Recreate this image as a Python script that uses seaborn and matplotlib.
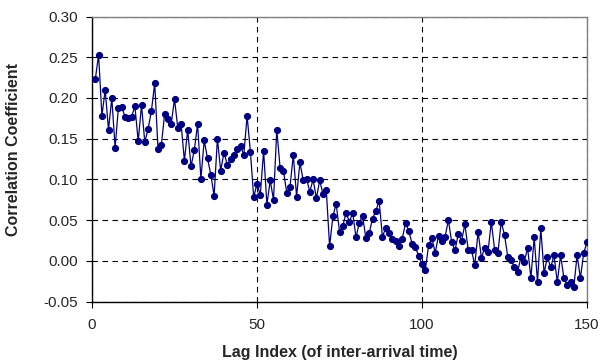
import matplotlib
matplotlib.use("Agg")
import matplotlib.pyplot as plt
import seaborn as sns
import pandas as pd

lags = list(range(1, 151))
corr = [
    0.223, 0.253, 0.178, 0.210, 0.161, 0.200, 0.139, 0.188, 0.189, 0.177,
    0.175, 0.177, 0.190, 0.147, 0.191, 0.146, 0.162, 0.184, 0.218, 0.138,
    0.142, 0.180, 0.174, 0.168, 0.199, 0.163, 0.168, 0.123, 0.161, 0.116,
    0.136, 0.168, 0.101, 0.148, 0.126, 0.106, 0.080, 0.150, 0.111, 0.133,
    0.118, 0.125, 0.130, 0.137, 0.141, 0.130, 0.178, 0.134, 0.078, 0.095,
    0.081, 0.135, 0.069, 0.099, 0.075, 0.161, 0.114, 0.111, 0.084, 0.091,
    0.130, 0.079, 0.121, 0.099, 0.101, 0.085, 0.100, 0.077, 0.099, 0.082,
    0.087, 0.018, 0.055, 0.070, 0.036, 0.043, 0.059, 0.048, 0.059, 0.029,
    0.047, 0.055, 0.028, 0.034, 0.052, 0.061, 0.074, 0.030, 0.040, 0.034,
    0.027, 0.025, 0.018, 0.027, 0.046, 0.037, 0.021, 0.017, 0.006, -0.004,
    -0.011, 0.019, 0.028, 0.010, 0.031, 0.025, 0.030, 0.050, 0.023, 0.013,
    0.033, 0.025, 0.045, 0.014, 0.013, -0.005, 0.036, 0.004, 0.016, 0.011,
    0.048, 0.014, 0.010, 0.048, 0.032, 0.005, 0.001, -0.007, -0.013, 0.005,
    -0.001, 0.016, -0.021, 0.029, -0.026, 0.040, -0.015, 0.005, -0.008, 0.007,
    -0.026, 0.007, -0.021, -0.029, -0.026, -0.032, 0.007, -0.021, 0.010, 0.023,
]
x_ticks = [0, 50, 100, 150]
y_ticks = [-0.05, 0.00, 0.05, 0.10, 0.15, 0.20, 0.25, 0.30]
x_label = "Lag Index (of inter-arrival time)"
y_label = "Correlation Coefficient"

df = pd.DataFrame({"lag": lags, "corr": corr})

sns.set_style("white")
plt.rcParams["font.family"] = ["Liberation Sans", "DejaVu Sans"]

fig = plt.figure(figsize=(6.02, 3.62), dpi=100)
ax = fig.add_axes([92 / 602, 1 - 301.7 / 362, (587 - 92) / 602, (301.7 - 16.5) / 362])

sns.lineplot(data=df, x="lag", y="corr", ax=ax, color="#000080", linewidth=0.9,
             marker="o", markersize=4.4, markeredgecolor="#000080",
             markerfacecolor="#000080", zorder=3)

ax.set_xlim(0, 150)
ax.set_ylim(-0.05, 0.30)
ax.set_xticks(x_ticks)
ax.set_yticks(y_ticks)
ax.set_yticklabels([f"{v:.2f}" for v in y_ticks])
ax.grid(True, color="black", linestyle=(0, (5, 4)), linewidth=0.8)
ax.set_axisbelow(True)

for s in ["left", "bottom"]:
    ax.spines[s].set_color("black")
    ax.spines[s].set_linewidth(1.0)
for s in ["top", "right"]:
    ax.spines[s].set_visible(True)
    ax.spines[s].set_color("#808080")
    ax.spines[s].set_linewidth(1.0)

ax.tick_params(axis="both", which="major", direction="out", length=4, width=0.8,
               color="black", labelsize=11, left=True, bottom=True)
ax.tick_params(axis="x", pad=8)
ax.tick_params(axis="y", pad=6)
ax.set_xlabel(x_label, fontsize=11.5, fontweight="bold")
ax.set_ylabel(y_label, fontsize=11.5, fontweight="bold")
ax.xaxis.set_label_coords(0.5, -(345 - 301.7) / 285.2)
ax.yaxis.set_label_coords((21 - 92) / 495, 0.532)

fig.savefig("out.png", dpi=100)
